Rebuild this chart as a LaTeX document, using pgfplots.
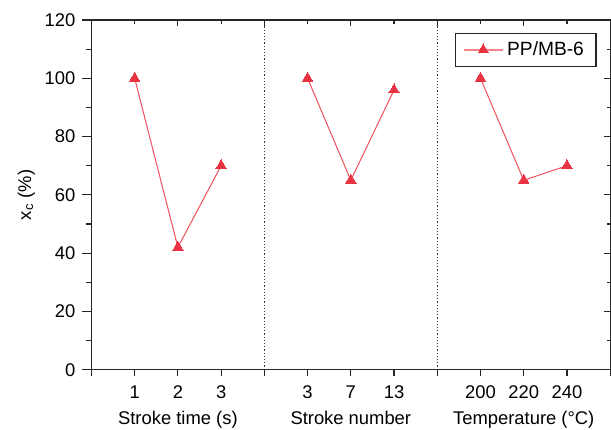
\documentclass[border=0pt]{standalone}
\usepackage{pgfplots}
\pgfplotsset{compat=1.18}
\usepackage{fontspec}
\setmainfont{Liberation Sans}
\definecolor{mkred}{RGB}{232,52,66}
\definecolor{lnred}{RGB}{240,80,92}

\begin{document}
\begin{tikzpicture}[font=\fontsize{9.2}{11}\selectfont]
\begin{axis}[name=main,scale only axis,width=259.6pt,height=175pt,
  xmin=0,xmax=12,ymin=0,ymax=120,
  axis line style={line width=0.7pt,black!85},
  tick style={line width=0.6pt,black!85},
  tick align=outside,xtick pos=bottom,ytick pos=left,
  major tick length=4.5pt,minor tick length=2.8pt,
  xtick={0,...,12},
  xticklabels={,1,2,3,,3,7,13,,200,220,240,},
  xtick style={/pgfplots/major tick length=3pt},
  ytick={0,20,...,120},minor ytick={10,30,...,110},
  ylabel={x\textsubscript{c} (\%)},
  ylabel style={yshift=-2pt},
  /pgf/number format/assume math mode=true,
  legend style={draw=black!85,line width=0.6pt,at={(0.9736,0.963)},anchor=north east,
    inner xsep=4pt,inner ysep=2pt,font=\fontsize{9.6}{11}\selectfont},
  legend image code/.code={\draw[mark repeat=2,mark phase=2,lnred!70!white,line width=0.6pt]
    plot coordinates {(0cm,0cm)(0.34cm,0cm)(0.68cm,0cm)};},
  legend cell align=left,
  clip=false]
% dotted separators between the three groups
\addplot[forget plot,densely dotted,line width=0.6pt,black!80] coordinates {(4,0)(4,120)};
\addplot[forget plot,densely dotted,line width=0.6pt,black!80] coordinates {(8,0)(8,120)};
% stroke time
\addplot[lnred,line width=0.5pt,mark=triangle*,mark size=3pt,
  mark options={mkred,fill=mkred,line width=0pt}] coordinates {(1,100)(2,42)(3,70)};
\legend{PP/MB-6}
% stroke number
\addplot[forget plot,lnred,line width=0.5pt,mark=triangle*,mark size=3pt,
  mark options={mkred,fill=mkred,line width=0pt}] coordinates {(5,100)(6,65)(7,96)};
% temperature
\addplot[forget plot,lnred,line width=0.5pt,mark=triangle*,mark size=3pt,
  mark options={mkred,fill=mkred,line width=0pt}] coordinates {(9,100)(10,65)(11,70)};
\node[anchor=base,yshift=-27.5pt] at (axis cs:2,0) {Stroke time (s)};
\node[anchor=base,yshift=-27.5pt] at (axis cs:6,0) {Stroke number};
\node[anchor=base,yshift=-27.5pt] at (axis cs:10,0) {Temperature (\textdegree C)};
\end{axis}
% inward ticks on top and right
\begin{axis}[scale only axis,width=259.6pt,height=175pt,
  xmin=0,xmax=12,ymin=0,ymax=120,
  axis line style={line width=0.7pt,black!85},
  tick style={line width=0.6pt,black!85},
  tick align=inside,xtick pos=top,ytick pos=right,
  major tick length=3pt,minor tick length=1.8pt,
  xtick={2,4,...,12},minor xtick={1,3,...,11},
  ytick={0,20,...,120},minor ytick={10,30,...,110},
  xticklabels={},yticklabels={}]
\end{axis}
\pgfresetboundingbox
\path ([xshift=-45.75pt,yshift=-30pt]current axis.south west) rectangle ([xshift=0.4pt,yshift=10pt]current axis.north east);
\end{tikzpicture}
\end{document}
